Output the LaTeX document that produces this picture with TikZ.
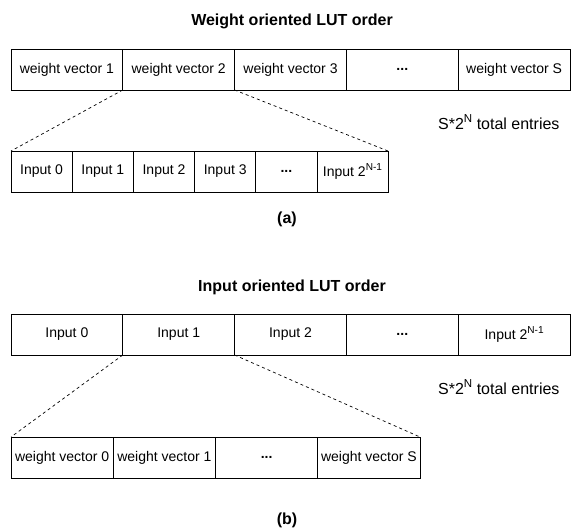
\documentclass[tikz,border=0pt]{standalone}
\usepackage{fontspec}
\setmainfont{Liberation Sans}
\newcommand\mysup[1]{\raisebox{0.42em}{\fontsize{0.72\dimexpr\fontdimen6\font\relax}{1pt}\selectfont #1}}
\begin{document}
\begin{tikzpicture}[x=1pt,y=-1pt,
  cell/.style={draw=black, line width=0.8pt, minimum height=41pt, inner sep=0pt, outer sep=0pt, anchor=north west, font=\fontsize{14}{16}\selectfont},
  conn/.style={dash pattern=on 3pt off 3pt, line width=0.7pt},
  title/.style={font=\fontsize{16}{19}\selectfont\bfseries},
  note/.style={font=\fontsize{16}{19}\selectfont, anchor=west, inner sep=0pt}]
\useasboundingbox (0,0) rectangle (571,529);

% (a)
\node[title] (ta) at (292,21) {Weight oriented LUT order};
\node[cell, minimum width=111.8pt] (a1) at (11,49) {weight vector 1};
\node[cell, minimum width=111.8pt] (a2) at (122.8,49) {weight vector 2};
\node[cell, minimum width=111.8pt] (a3) at (234.6,49) {weight vector 3};
\node[cell, minimum width=111.8pt] (a4) at (346.4,49) {\textbf{...}};
\node[cell, minimum width=111.8pt] (a5) at (458.2,49) {weight vector S};

\node[cell, minimum width=61.2pt] (b1) at (11,151) {Input 0};
\node[cell, minimum width=61.2pt] (b2) at (72.2,151) {Input 1};
\node[cell, minimum width=61.2pt] (b3) at (133.4,151) {Input 2};
\node[cell, minimum width=61.2pt] (b4) at (194.6,151) {Input 3};
\node[cell, minimum width=61.2pt] (b5) at (255.8,151) {\textbf{...}};
\node[cell, minimum width=71pt] (b6) at (317,151) {Input 2\mysup{N-1}};

\draw[conn] (a1.south east) -- (b1.north west);
\draw[conn] (a2.south east) -- (b6.north east);

\node[note] (na) at (438,122) {S*2\mysup{N} total entries};
\node[title] (la) at (287,219) {(a)};

% (b)
\node[title] (tb) at (292,287) {Input oriented LUT order};
\node[cell, minimum width=111.8pt] (c1) at (11,314) {Input 0};
\node[cell, minimum width=111.8pt] (c2) at (122.8,314) {Input 1};
\node[cell, minimum width=111.8pt] (c3) at (234.6,314) {Input 2};
\node[cell, minimum width=111.8pt] (c4) at (346.4,314) {\textbf{...}};
\node[cell, minimum width=111.8pt] (c5) at (458.2,314) {Input 2\mysup{N-1}};

\node[cell, minimum width=102.25pt] (d1) at (11,437) {weight vector 0};
\node[cell, minimum width=102.25pt] (d2) at (113.25,437) {weight vector 1};
\node[cell, minimum width=102.25pt] (d3) at (215.5,437) {\textbf{...}};
\node[cell, minimum width=102.25pt] (d4) at (317.75,437) {weight vector S};

\draw[conn] (c1.south east) -- (d1.north west);
\draw[conn] (c2.south east) -- (d4.north east);

\node[note] (nb) at (438,387) {S*2\mysup{N} total entries};
\node[title] (lb) at (287,520) {(b)};
\end{tikzpicture}
\end{document}
